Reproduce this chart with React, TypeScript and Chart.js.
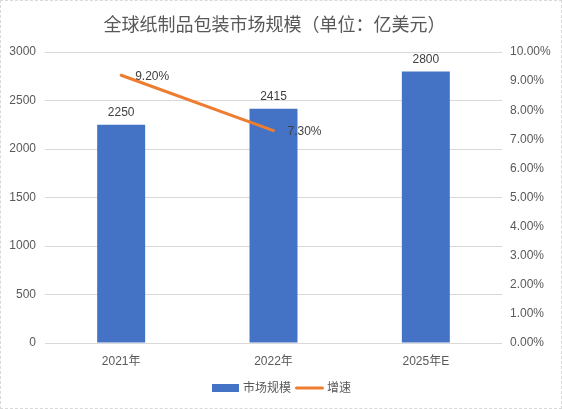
import React, { useEffect, useRef } from "react";
import { Chart, registerables } from "chart.js";

Chart.register(...registerables);

const TITLE = "全球纸制品包装市场规模（单位：亿美元）";
const categories = ["2021年", "2022年", "2025年E"];
const marketSize = [2250, 2415, 2800];
const growthRate: (number | null)[] = [9.2, 7.3, null];
const seriesNames = ["市场规模", "增速"];
const leftAxis = { min: 0, max: 3000, step: 500 };
const rightAxis = { min: 0, max: 10, step: 1 };

const FONT = '"Liberation Sans", "Noto Sans CJK SC", sans-serif';
const CJK = '"Noto Sans CJK SC", "Liberation Sans", sans-serif';
const BAR_COLOR = "#4472C4";
const LINE_COLOR = "#ED7D31";
const TEXT = "#595959";

const overlay = {
  id: "overlay",
  afterDatasetsDraw(chart: any) {
    const ctx = chart.ctx;
    ctx.save();
    // bar value labels
    ctx.font = `12px ${FONT}`;
    ctx.fillStyle = "#404040";
    ctx.textAlign = "center";
    ctx.textBaseline = "bottom";
    chart.getDatasetMeta(0).data.forEach((el: any, i: number) => {
      ctx.fillText(String(marketSize[i]), el.x, el.y - 6);
    });
    // line value labels
    ctx.textAlign = "left";
    ctx.textBaseline = "middle";
    chart.getDatasetMeta(1).data.forEach((el: any, i: number) => {
      const v = growthRate[i];
      if (v == null) return;
      ctx.fillText(v.toFixed(2) + "%", el.x + 14, el.y + 1);
    });
    // title
    ctx.font = `18px ${CJK}`;
    ctx.fillStyle = TEXT;
    ctx.textAlign = "center";
    ctx.textBaseline = "middle";
    ctx.fillText(TITLE, 273.5, 23);
    // legend
    ctx.font = `12px ${FONT}`;
    const w0 = ctx.measureText(seriesNames[0]).width;
    const boxW = 27;
    const lineW = 29;
    let x = 211;
    const y = 387;
    ctx.fillStyle = BAR_COLOR;
    ctx.fillRect(x, y - 4, boxW, 8);
    x += boxW + 4;
    ctx.fillStyle = TEXT;
    ctx.textAlign = "left";
    ctx.fillText(seriesNames[0], x, y + 1);
    x += w0 + 4;
    ctx.strokeStyle = LINE_COLOR;
    ctx.lineWidth = 3;
    ctx.lineCap = "round";
    ctx.beginPath();
    ctx.moveTo(x + 1.5, y);
    ctx.lineTo(x + lineW - 1.5, y);
    ctx.stroke();
    x += lineW + 3;
    ctx.fillText(seriesNames[1], x, y + 1);
    ctx.restore();
  },
};

export default function App() {
  const ref = useRef<HTMLCanvasElement>(null);
  useEffect(() => {
    document.body.style.margin = "0";
    const chart = new Chart(ref.current as HTMLCanvasElement, {
      type: "bar",
      data: {
        labels: categories,
        datasets: [
          {
            type: "bar",
            label: seriesNames[0],
            data: marketSize,
            backgroundColor: BAR_COLOR,
            categoryPercentage: 1,
            barPercentage: 0.315,
            yAxisID: "y",
            order: 1,
          },
          {
            type: "line",
            label: seriesNames[1],
            data: growthRate,
            borderColor: LINE_COLOR,
            backgroundColor: LINE_COLOR,
            borderWidth: 3,
            pointRadius: 0,
            borderCapStyle: "round",
            yAxisID: "y1",
            order: 0,
          } as any,
        ],
      },
      options: {
        animation: false,
        responsive: false,
        maintainAspectRatio: false,
        layout: { padding: { top: 51, bottom: 30, left: 0, right: 0 } },
        plugins: {
          legend: { display: false },
          title: { display: false },
          tooltip: { enabled: false },
        },
        scales: {
          x: {
            grid: { display: false },
            border: { display: false },
            ticks: { color: TEXT, font: { size: 12, family: FONT }, padding: 3 },
            afterFit: (s: any) => {
              s.height = 35;
            },
          },
          y: {
            position: "left",
            min: leftAxis.min,
            max: leftAxis.max,
            ticks: {
              stepSize: leftAxis.step,
              color: TEXT,
              font: { size: 12, family: FONT },
              padding: 9,
              callback: (v: any) => String(v),
            },
            grid: { color: "#D9D9D9", drawTicks: false },
            border: { display: false },
            afterFit: (s: any) => {
              s.width = 44;
            },
          },
          y1: {
            position: "right",
            min: rightAxis.min,
            max: rightAxis.max,
            ticks: {
              stepSize: rightAxis.step,
              color: TEXT,
              font: { size: 12, family: FONT },
              padding: 8,
              callback: (v: any) => Number(v).toFixed(2) + "%",
            },
            grid: { display: false, drawTicks: false },
            border: { display: false },
            afterFit: (s: any) => {
              s.width = 59;
            },
          },
        },
      },
      plugins: [overlay],
    } as any);
    return () => chart.destroy();
  }, []);
  return (
    <div
      style={{
        position: "absolute",
        left: 0,
        top: 0,
        width: 562,
        height: 409,
        boxSizing: "border-box",
        border: "1px dashed #D9D9D9",
        background: "#fff",
      }}
    >
      <canvas ref={ref} width={560} height={407} style={{ display: "block" }} />
    </div>
  );
}
